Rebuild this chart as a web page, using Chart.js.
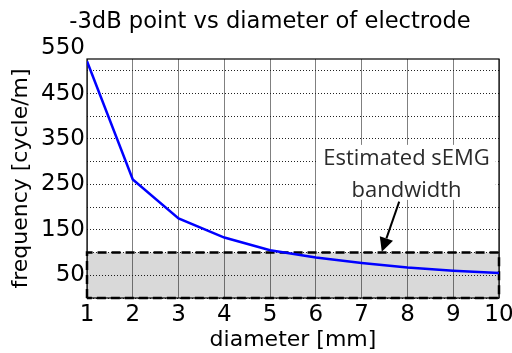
<!DOCTYPE html>
<html>
<head>
<meta charset="utf-8">
<script src="https://cdn.jsdelivr.net/npm/chart.js@4.4.1/dist/chart.umd.min.js"></script>
<style>
html, body { margin: 0; padding: 0; background: #fff; }
#wrap { position: relative; width: 512px; height: 353px; }
#title {
  position: absolute; left: 0; top: 9px; width: 540px;
  text-align: center; white-space: nowrap;
  font: 22.6px/23px "DejaVu Sans", sans-serif; color: #000;
}
</style>
</head>
<body>
<div id="wrap">
  <canvas id="chart" width="512" height="353"></canvas>
  <div id="title">-3dB point vs diameter of electrode</div>
</div>
<script>
// values
const diameters = [1, 2, 3, 4, 5, 6, 7, 8, 9, 10];
const cutoffFreq = [521, 261, 175, 133, 105, 89, 77, 67, 60, 55];
const yGridValues = [0, 50, 100, 150, 200, 250, 300, 350, 400, 450, 500, 550];
const yTickLabels = ['50', '150', '250', '350', '450', '550'];
const bandX = [1, 10];
const bandFreq = [0, 100];
const noteLines = ['Estimated sEMG', 'bandwidth'];

const Y_MAX = 526;
const tickFont = { family: 'DejaVu Sans', size: 23 };
const titleFont = { family: 'DejaVu Sans', size: 22 };

// black box round the plot area (top and right are not drawn by the axes)
const plotFrame = {
  id: 'plotFrame',
  beforeDatasetsDraw(chart) {
    const { ctx, chartArea: a } = chart;
    ctx.save();
    ctx.strokeStyle = '#000';
    ctx.lineWidth = 1.2;
    ctx.strokeRect(a.left, a.top, a.right - a.left, a.bottom - a.top);
    ctx.restore();
  }
};

// "Estimated sEMG bandwidth" note with its arrow
const bandNote = {
  id: 'bandNote',
  afterDatasetsDraw(chart) {
    const { ctx } = chart;
    const x = chart.scales.x, y = chart.scales.y;
    ctx.save();
    ctx.fillStyle = '#fff';
    const bx0 = x.getPixelForValue(6.02), bx1 = x.getPixelForValue(9.93);
    const by0 = y.getPixelForValue(337), by1 = y.getPixelForValue(216);
    ctx.fillRect(bx0, by0, bx1 - bx0, by1 - by0);

    ctx.fillStyle = '#2b2b2b';
    ctx.font = '22px "Open Sans", sans-serif';
    ctx.textAlign = 'center';
    ctx.textBaseline = 'alphabetic';
    const cx = x.getPixelForValue(7.98);
    ctx.fillText(noteLines[0], cx, y.getPixelForValue(293));
    ctx.fillText(noteLines[1], cx, y.getPixelForValue(223));

    // arrow
    const x0 = x.getPixelForValue(7.82), y0 = y.getPixelForValue(212);
    const x1 = x.getPixelForValue(7.44), y1 = y.getPixelForValue(102);
    const ang = Math.atan2(y1 - y0, x1 - x0);
    const headLen = 14, headHalf = 7;
    const hx = x1 - headLen * Math.cos(ang), hy = y1 - headLen * Math.sin(ang);
    ctx.strokeStyle = '#000';
    ctx.lineWidth = 2;
    ctx.beginPath();
    ctx.moveTo(x0, y0);
    ctx.lineTo(hx, hy);
    ctx.stroke();
    ctx.fillStyle = '#000';
    ctx.beginPath();
    ctx.moveTo(x1, y1);
    ctx.lineTo(hx + headHalf * Math.sin(ang), hy - headHalf * Math.cos(ang));
    ctx.lineTo(hx - headHalf * Math.sin(ang), hy + headHalf * Math.cos(ang));
    ctx.closePath();
    ctx.fill();
    ctx.restore();
  }
};

const ctx = document.getElementById('chart').getContext('2d');

new Chart(ctx, {
  type: 'line',
  data: {
    datasets: [{
      label: '-3dB point',
      data: diameters.map((d, i) => ({ x: d, y: cutoffFreq[i] })),
      borderColor: '#0000ff',
      borderWidth: 2.5,
      pointRadius: 0,
      tension: 0,
      fill: false,
      order: 0
    }, {
      label: 'band outline',
      data: [
        { x: bandX[0], y: bandFreq[0] },
        { x: bandX[0], y: bandFreq[1] },
        { x: bandX[1], y: bandFreq[1] },
        { x: bandX[1], y: bandFreq[0] },
        { x: bandX[0], y: bandFreq[0] }
      ],
      borderColor: '#000',
      borderWidth: 2.5,
      borderDash: [9, 5],
      pointRadius: 0,
      fill: false,
      clip: false,
      order: 1
    }, {
      label: 'band',
      data: [
        { x: bandX[0], y: bandFreq[1] },
        { x: bandX[1], y: bandFreq[1] }
      ],
      borderWidth: 0,
      backgroundColor: 'rgba(0, 0, 0, 0.15)',
      pointRadius: 0,
      fill: 'origin',
      order: 2
    }]
  },
  options: {
    responsive: false,
    animation: false,
    events: [],
    layout: {
      padding: { top: 59, left: 0, right: 0, bottom: 0 }
    },
    plugins: {
      legend: { display: false },
      tooltip: { enabled: false },
      title: { display: false }
    },
    scales: {
      x: {
        type: 'linear',
        min: 1,
        max: 10,
        ticks: {
          stepSize: 1,
          color: '#000',
          font: tickFont,
          padding: 3,
          maxRotation: 0
        },
        grid: {
          color: '#808080',
          lineWidth: 1,
          drawTicks: false
        },
        border: { display: false },
        title: {
          display: true,
          text: 'diameter [mm]',
          color: '#000',
          font: titleFont,
          padding: { top: 0, bottom: 0 }
        },
        afterFit: function (scale) {
          scale.height = 55;
          scale.paddingLeft = 0;
          scale.paddingRight = 13;
        }
      },
      y: {
        type: 'linear',
        min: 0,
        max: Y_MAX,
        afterBuildTicks: function (scale) {
          scale.ticks = yGridValues.map(v => ({ value: v }));
        },
        ticks: {
          autoSkip: false,
          color: '#000',
          font: tickFont,
          padding: 2,
          callback: function (value) {
            return yTickLabels.includes(String(value)) ? String(value) : '';
          }
        },
        grid: {
          color: function (c) {
            return c.tick && c.tick.value > Y_MAX ? 'rgba(0,0,0,0)' : '#222';
          },
          lineWidth: 1,
          drawTicks: false
        },
        border: { display: false, dash: [1, 2] },
        title: {
          display: true,
          text: 'frequency [cycle/m]',
          color: '#000',
          font: titleFont,
          padding: { top: 8, bottom: 0 }
        },
        afterFit: function (scale) {
          scale.width = 87;
        }
      }
    }
  },
  plugins: [plotFrame, bandNote]
});
</script>
</body>
</html>
